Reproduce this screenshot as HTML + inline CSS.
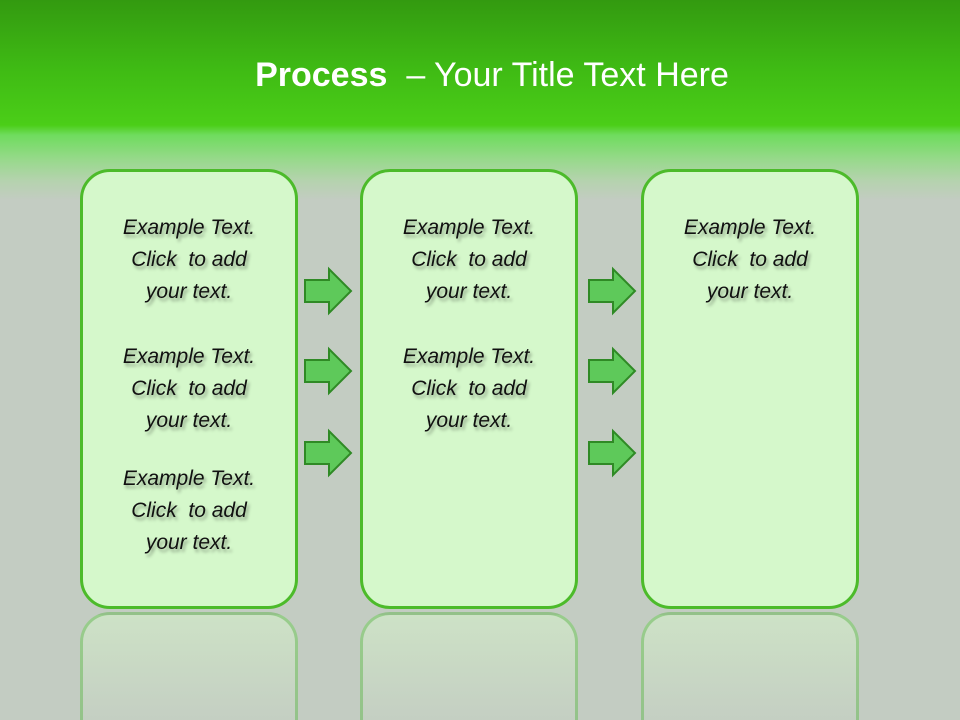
<!DOCTYPE html>
<html><head><style>
html,body{margin:0;padding:0;width:960px;height:720px;overflow:hidden;background:#c3ccc2;}
#w{position:relative;width:960px;height:720px;overflow:hidden;font-family:"Liberation Sans",sans-serif;
background:linear-gradient(to bottom,#339a10 0px,#3fbb14 70px,#4bce18 125px,#6fdc5e 135px,#98d98c 160px,#b4d3ad 180px,#c3ccc2 200px,#c3ccc2 720px);}
.t{position:absolute;top:56px;left:0;width:984px;text-align:center;color:#fff;font-size:34px;}
.box{position:absolute;top:169px;width:212px;height:434px;border:3px solid #4cbb2a;border-radius:30px;background:#d5f8cb;}
.ref{position:absolute;top:612px;width:212px;height:120px;border:3px solid rgba(90,180,70,.45);border-bottom:none;border-radius:30px 30px 0 0;background:linear-gradient(#cde2c6,#c3ccc2);}
.txt{position:absolute;width:218px;text-align:center;font-style:italic;font-size:21px;line-height:32px;color:#111;text-shadow:2px 3px 3px rgba(0,0,0,.35);}
svg.a{position:absolute;}
</style></head><body><div id="w">
<div class="t"><b>Process</b>&nbsp; – Your Title Text Here</div>
<div class="ref" style="left:80px"></div><div class="ref" style="left:360px"></div><div class="ref" style="left:641px"></div>
<div class="box" style="left:80px"></div><div class="box" style="left:360px"></div><div class="box" style="left:641px"></div>
<div class="txt" style="left:80px;top:212px">Example Text.<br>Click&nbsp; to add<br>your text.</div>
<div class="txt" style="left:80px;top:341px">Example Text.<br>Click&nbsp; to add<br>your text.</div>
<div class="txt" style="left:80px;top:463px">Example Text.<br>Click&nbsp; to add<br>your text.</div>
<div class="txt" style="left:360px;top:212px">Example Text.<br>Click&nbsp; to add<br>your text.</div>
<div class="txt" style="left:360px;top:341px">Example Text.<br>Click&nbsp; to add<br>your text.</div>
<div class="txt" style="left:641px;top:212px">Example Text.<br>Click&nbsp; to add<br>your text.</div>
<svg class="a" width="960" height="720" style="left:0;top:0">
<defs><path id="ar" d="M0,-11 H24 V-22 L46,0 L24,22 V11 H0 Z" fill="#5ec95a" stroke="#2f8a25" stroke-width="2"/></defs>
<use href="#ar" x="305" y="291"/><use href="#ar" x="305" y="371"/><use href="#ar" x="305" y="453"/>
<use href="#ar" x="589" y="291"/><use href="#ar" x="589" y="371"/><use href="#ar" x="589" y="453"/>
</svg>
</div></body></html>
